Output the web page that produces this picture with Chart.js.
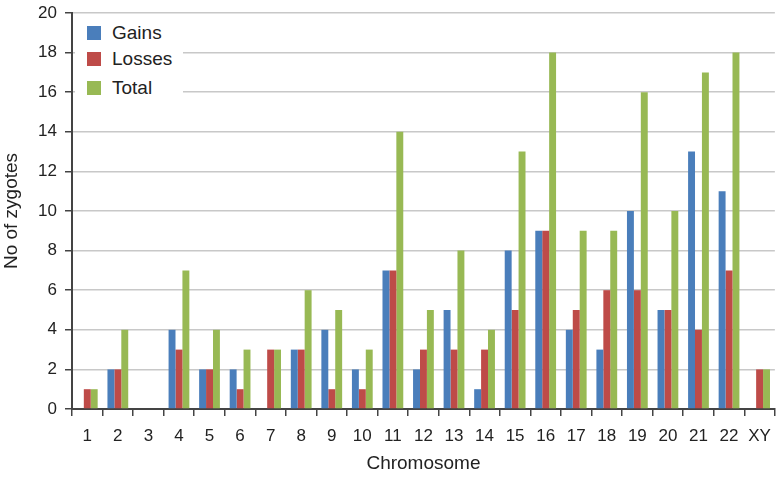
<!DOCTYPE html>
<html>
<head>
<meta charset="utf-8">
<script src="https://cdn.jsdelivr.net/npm/chart.js@4.4.1/dist/chart.umd.min.js"></script>
<style>
  html, body { margin: 0; padding: 0; background: #fff; }
  #wrap { position: relative; width: 781px; height: 478px; }
  #legend {
    position: absolute; left: 75px; top: 16px; width: 108px; height: 82px;
    background: #fff; font-family: "Liberation Sans", Arial, sans-serif; font-size: 19px; color: #222;
  }
  .item { position: absolute; left: 12px; height: 20px; line-height: 20px; }
  .box { display: inline-block; width: 14px; height: 14px; vertical-align: -1px; margin-right: 11px; }
</style>
</head>
<body>
<div id="wrap">
  <canvas id="chart" width="781" height="478"></canvas>
  <div id="legend"></div>
</div>
<script>
// Data
const chromosomes = ['1','2','3','4','5','6','7','8','9','10','11','12','13','14','15','16','17','18','19','20','21','22','XY'];
const gains  = [0, 2, 0, 4, 2, 2, 0, 3, 4, 2, 7, 2, 5, 1, 8, 9, 4, 3, 10, 5, 13, 11, 0];
const losses = [1, 2, 0, 3, 2, 1, 3, 3, 1, 1, 7, 3, 3, 3, 5, 9, 5, 6, 6, 5, 4, 7, 2];
const totals = [1, 4, 0, 7, 4, 3, 3, 6, 5, 3, 14, 5, 8, 4, 13, 18, 9, 9, 16, 10, 17, 18, 2];
const yTicks = [0, 2, 4, 6, 8, 10, 12, 14, 16, 18, 20];

const seriesNames = ['Gains', 'Losses', 'Total'];
const seriesColors = ['#4a7ebb', '#be4b48', '#98b954'];

const FONT = '"Liberation Sans", Arial, sans-serif';

// Build the legend (top-left, inside the plot)
function buildLegend() {
    const legend = document.getElementById('legend');
    const tops = [7, 33, 62];
    seriesNames.forEach((name, i) => {
        const item = document.createElement('div');
        item.className = 'item';
        item.style.top = tops[i] + 'px';
        item.innerHTML = '<span class="box" style="background:' + seriesColors[i] + '"></span>' + name;
        legend.appendChild(item);
    });
}

function drawChart() {
    const ctx = document.getElementById('chart');
    const seriesData = [gains, losses, totals];

    new Chart(ctx, {
        type: 'bar',
        data: {
            labels: chromosomes,
            datasets: seriesNames.map((name, i) => ({
                label: name,
                data: seriesData[i],
                backgroundColor: seriesColors[i],
                borderWidth: 0,
                categoryPercentage: 0.68,
                barPercentage: 1.0
            }))
        },
        options: {
            responsive: false,
            animation: false,
            layout: { padding: { top: 13, right: 3, left: 0, bottom: 0 } },
            plugins: {
                legend: { display: false },
                tooltip: { enabled: false }
            },
            scales: {
                x: {
                    offset: true,
                    grid: {
                        offset: true,
                        drawOnChartArea: false,
                        drawTicks: true,
                        tickLength: 7,
                        tickColor: '#444',
                        lineWidth: 1.5
                    },
                    border: { color: '#444', width: 2 },
                    ticks: {
                        color: '#222',
                        font: { family: FONT, size: 17 },
                        padding: 10,
                        maxRotation: 0,
                        autoSkip: false
                    },
                    title: {
                        display: true,
                        text: 'Chromosome',
                        color: '#222',
                        font: { family: FONT, size: 19 },
                        padding: { top: 0, bottom: 3 }
                    },
                    afterFit: scale => { scale.height = 69; }
                },
                y: {
                    min: 0,
                    max: 20,
                    afterBuildTicks: scale => { scale.ticks = yTicks.map(v => ({ value: v })); },
                    grid: {
                        color: '#c8c8c8',
                        lineWidth: 1.5,
                        tickLength: 7,
                        tickColor: '#444'
                    },
                    border: { color: '#444', width: 2 },
                    ticks: {
                        color: '#222',
                        font: { family: FONT, size: 17 },
                        padding: 8
                    },
                    title: {
                        display: true,
                        text: 'No of zygotes',
                        color: '#222',
                        font: { family: FONT, size: 19 },
                        padding: { top: 0, bottom: 0 }
                    },
                    afterFit: scale => {
                        scale.width = 72;
                        scale.paddingTop = 0;
                        scale.paddingBottom = 0;
                    }
                }
            }
        }
    });
}

buildLegend();
drawChart();
</script>
</body>
</html>
